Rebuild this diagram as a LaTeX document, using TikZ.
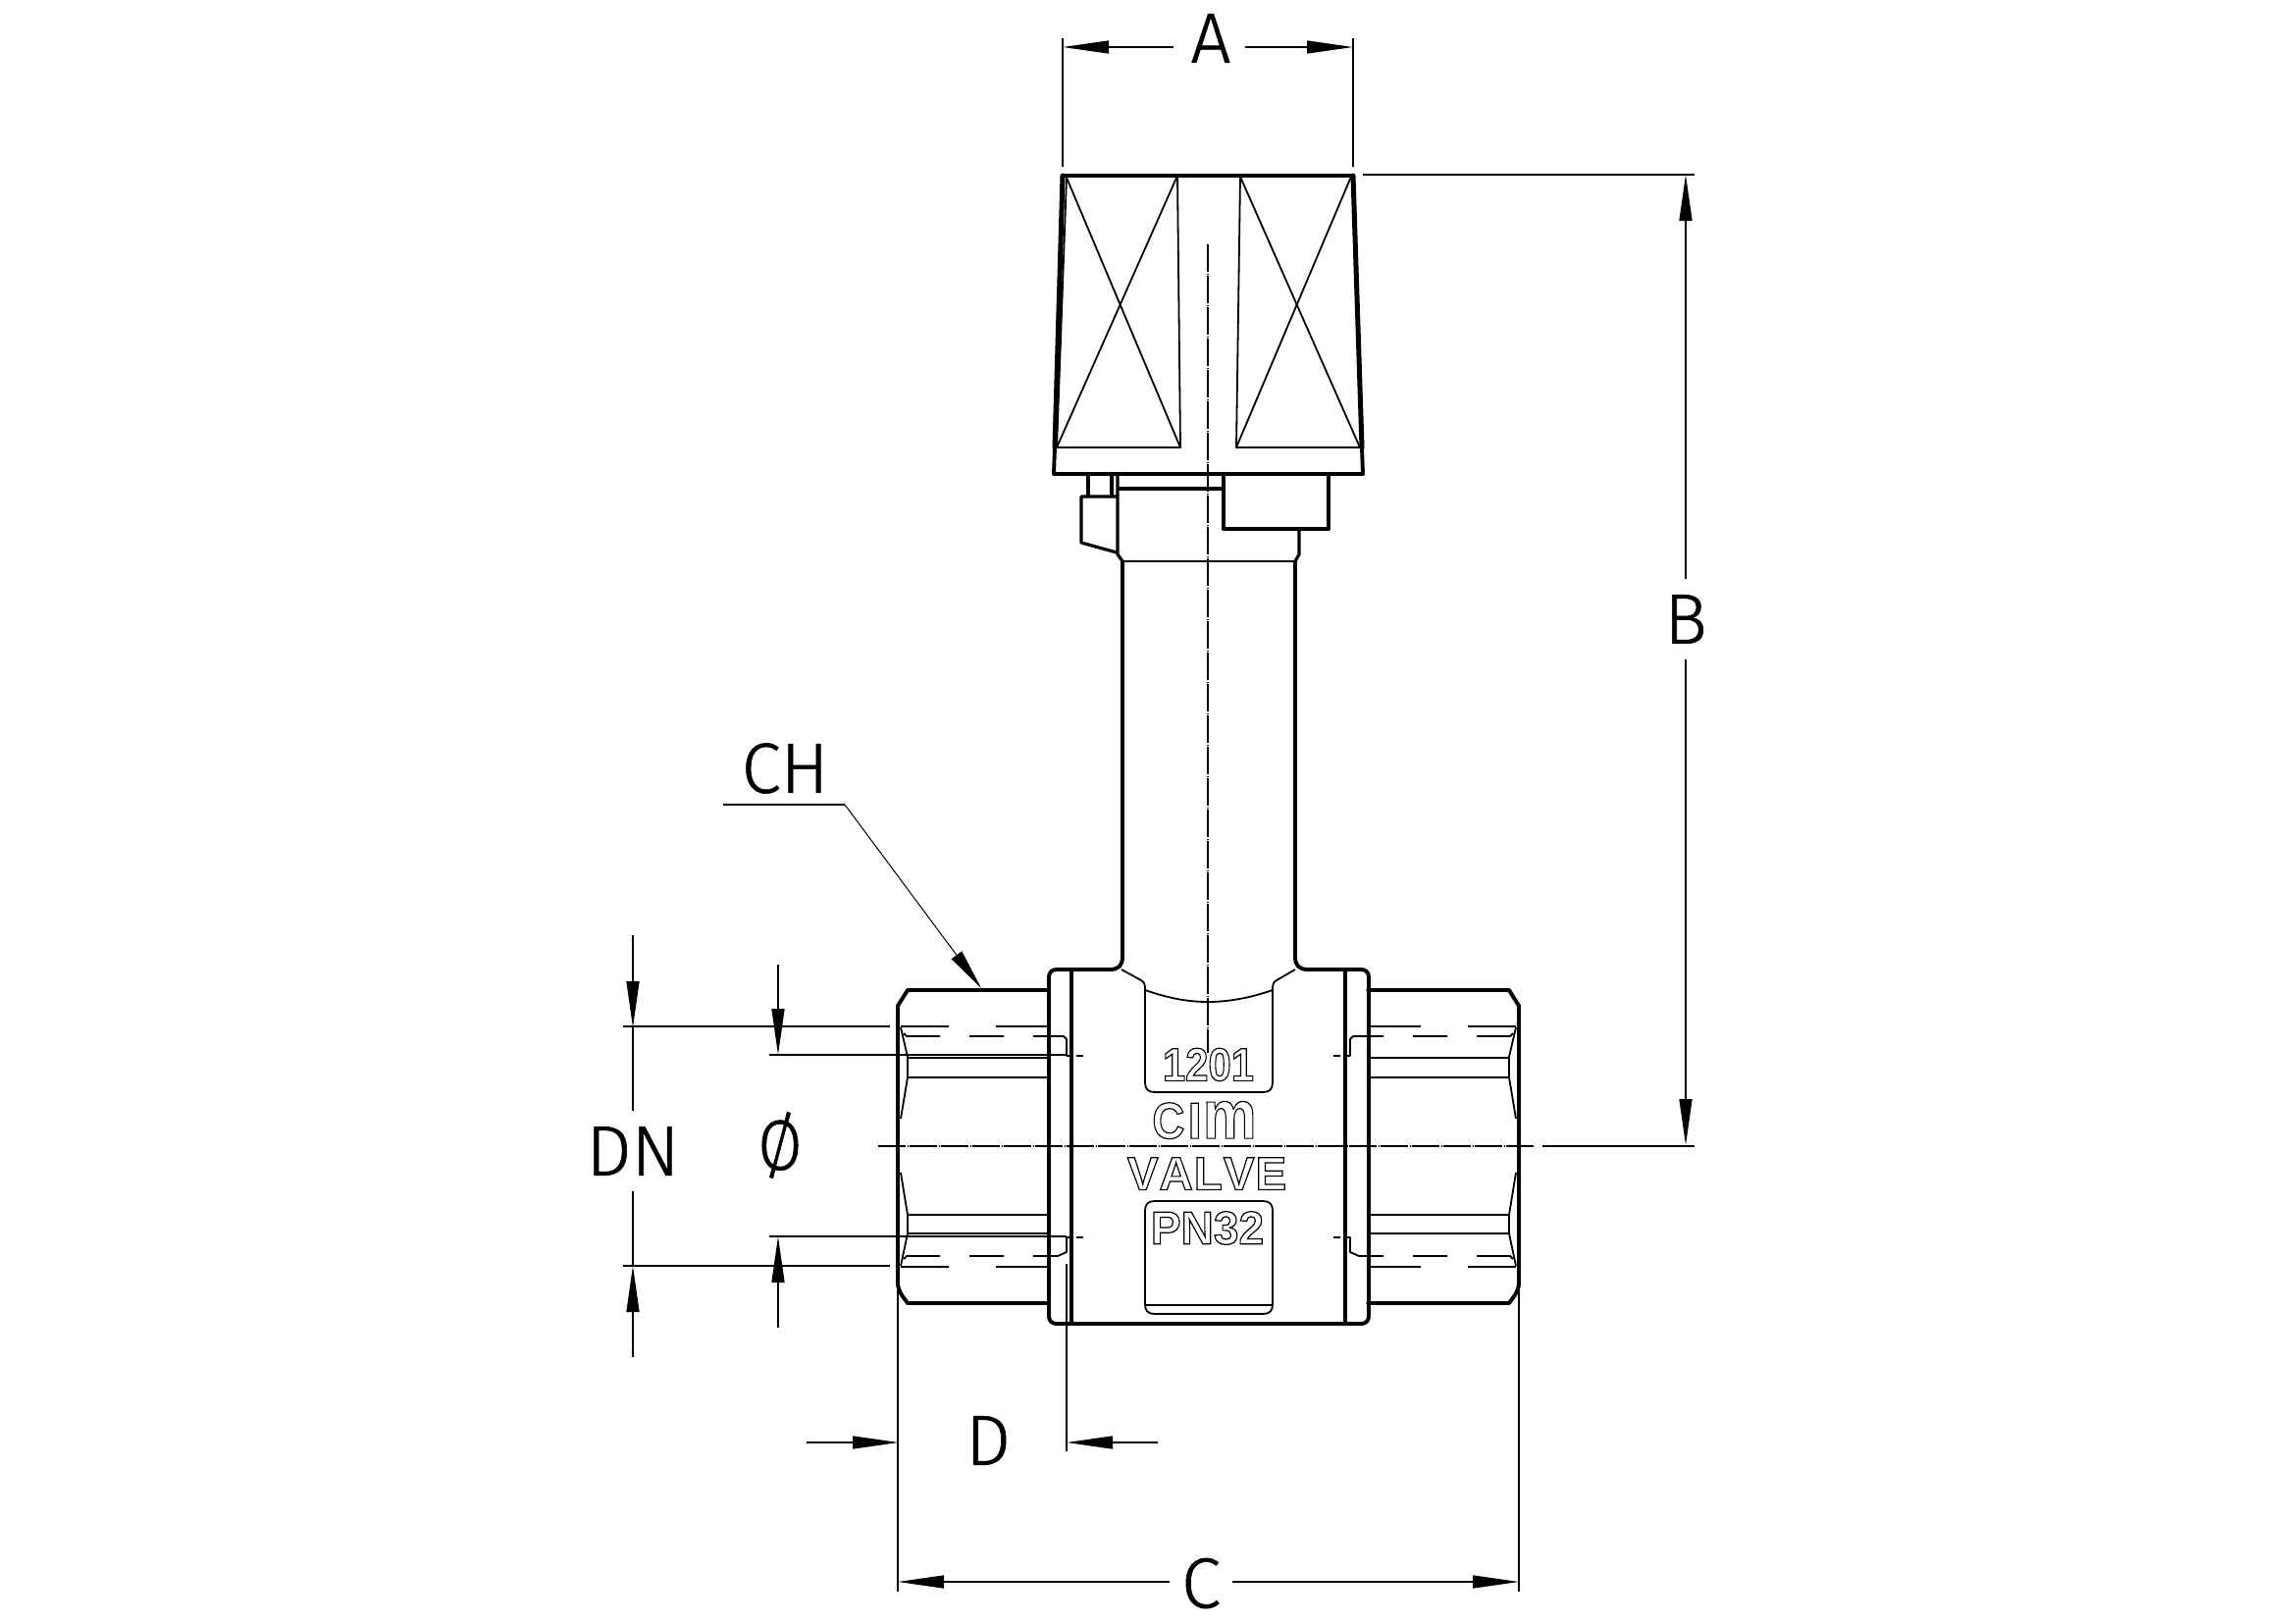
\documentclass[tikz,border=0pt]{standalone}
\usepackage{fontspec}
\usepackage{graphicx}
\usetikzlibrary{arrows.meta}
\setmainfont{Liberation Sans}
\newfontfamily\dimfont{Fira Sans Light}
\newfontfamily\engfont{Liberation Sans Bold}
\newcommand{\outl}[1]{\special{pdf:code 1 Tr 1.2 w}#1\special{pdf:code 0 Tr}}
\newcommand{\fatten}[1]{\special{pdf:code 2 Tr 0.6 w}#1\special{pdf:code 0 Tr}}
\newcommand{\hexside}{%
  \draw[heavy] (1069,1009) -- (925,1009) -- (915,1025) -- (915,1307) .. controls (915,1315) and (919,1320) .. (925,1328) -- (1069,1328);
  \draw[fine] (918,1047) -- (925,1077) -- (925,1098) -- (918,1140);
  \draw[fine] (918,1195) -- (925,1238) -- (925,1257) -- (918,1290);
  \draw[fine] (925,1078) -- (1069,1078);
  \draw[fine] (925,1098) -- (1069,1098);
  \draw[fine] (925,1238) -- (1069,1238);
  \draw[fine] (925,1257) -- (1069,1257);
  \draw[fine] (918,1046) -- (967,1046) (1015,1046) -- (1069,1046);
  \draw[fine] (918,1291) -- (967,1291) (1015,1291) -- (1069,1291);
  \draw[fine] (921,1053) -- (924,1056) -- (958,1056) (988,1056) -- (1023,1056) (1053,1056) -- (1084,1056) -- (1087,1059) -- (1087,1076) -- (1091,1076) (1097,1076) -- (1104,1076);
  \draw[fine] (921,1283) -- (924,1280) -- (958,1280) (988,1280) -- (1023,1280) (1053,1280) -- (1078,1280) -- (1087,1276) -- (1087,1261) -- (1091,1261) (1097,1261) -- (1104,1261);
}
\tikzset{
  x=1pt,y=-1pt,
  heavy/.style={line width=3.9pt,line cap=round,line join=round},
  side/.style={line width=5pt,line cap=round,line join=round},
  mid/.style={line width=3.2pt,line join=round},
  fine/.style={line width=1.8pt,line join=round},
  dimline/.style={line width=1.5pt},
  center line/.style={line width=1.3pt,dash pattern=on 28pt off 1.5pt on 1pt off 1.5pt},
  tip/.style={-{Triangle[length=47pt,width=13pt]}},
  dimlabel/.style={inner sep=0pt,font=\dimfont\fontsize{72.6}{72.6}\selectfont},
  engraved/.style={inner sep=0pt,font=\engfont\fontsize{47.5}{47.5}\selectfont},
}
\begin{document}
\begin{tikzpicture}
\useasboundingbox (0,0) rectangle (2339,1654);

% handwheel
\draw[side] (1075,456) -- (1083,179);
\draw[side] (1388,456) -- (1379,179);
\draw[heavy] (1083,179) -- (1379,179);
\draw[heavy] (1075,456) -- (1074,483) -- (1389,483) -- (1388,456);
\draw[fine] (1087,181) -- (1203,456) -- (1200,179) -- (1077,456) -- cycle;
\draw[fine] (1077,456) -- (1203,456);
\draw[fine] (1264,180) -- (1386,456) -- (1260,456) -- cycle;
\draw[fine] (1377,180) -- (1260,456);
% under the wheel
\draw[mid] (1109,483) -- (1109,506);
\draw[mid] (1133,483) -- (1133,506);
\draw[mid] (1139,483) -- (1139,565) -- (1144,572);
\draw[mid] (1138,506) -- (1102,506) -- (1102,553) -- (1138,563);
\draw[mid] (1139,498) -- (1247,498);
\draw[heavy] (1247,483) -- (1247,539) -- (1354,539) -- (1354,483);
\draw[mid] (1324,539) -- (1324,565) -- (1320,572);
\draw[fine] (1144,572) -- (1320,572);

% stem and body
\draw[heavy] (1144,572) -- (1144,975) .. controls (1144,984) and (1140,988) .. (1131,988)
  -- (1077,988) .. controls (1072,988) and (1069,991) .. (1069,996)
  -- (1069,1341) .. controls (1069,1346) and (1072,1349) .. (1077,1349)
  -- (1387,1349) .. controls (1392,1349) and (1395,1346) .. (1395,1341)
  -- (1395,996) .. controls (1395,991) and (1392,988) .. (1387,988)
  -- (1333,988) .. controls (1324,988) and (1320,984) .. (1320,975) -- (1320,572);
\draw[heavy] (1092,988) -- (1092,1349);
\draw[heavy] (1371,988) -- (1371,1349);

% label pads
\draw[fine] (1143,988) -- (1163,999) .. controls (1166,1001) and (1167,1003) .. (1167,1006)
  -- (1167,1103) .. controls (1167,1110) and (1170,1113) .. (1177,1113)
  -- (1287,1113) .. controls (1294,1113) and (1297,1110) .. (1297,1103)
  -- (1297,1006) .. controls (1297,1003) and (1298,1001) .. (1301,999) -- (1320,988);
\draw[fine] (1167,1009) .. controls (1190,1017) and (1210,1021) .. (1231,1021) .. controls (1252,1021) and (1274,1017) .. (1297,1009);
\draw[fine] (1177,1224) -- (1287,1224) .. controls (1294,1224) and (1297,1227) .. (1297,1234)
  -- (1297,1329) .. controls (1297,1336) and (1294,1339) .. (1287,1339)
  -- (1177,1339) .. controls (1170,1339) and (1167,1336) .. (1167,1329)
  -- (1167,1234) .. controls (1167,1227) and (1170,1224) .. (1177,1224) -- cycle;
\draw[fine] (1167,1330) -- (1297,1330);

% end hexagons
\hexside
\begin{scope}[shift={(2463,0)},xscale=-1]
\hexside
\end{scope}

% centre lines
\draw[center line] (1231,249) -- (1231,1073);
\draw[center line] (895,1168) -- (1563,1168);

% engraved text
\node[engraved] (t1201) at (1231.5,1085) {\outl{\scalebox{0.88}[1]{1201}}};
\node[engraved] (tcim) at (1227.5,1141.5) {\outl{\scalebox{0.88}[1]{\fontsize{52}{52}\selectfont C}\kern3pt\fontsize{52}{52}\selectfont I\kern1pt\scalebox{0.88}[1]{\fontsize{70}{70}\selectfont m}}};
\node[engraved] (tvalve) at (1230,1196) {\outl{V\kern1pt A\kern1pt L\kern1pt V\kern1pt E}};
\node[engraved] (tpn) at (1230.5,1251.5) {\outl{\scalebox{0.97}[1]{PN32}}};

% dimension A
\draw[dimline] (1083,39) -- (1083,170);
\draw[dimline] (1379,39) -- (1379,170);
\draw[dimline,tip] (1196,48) -- (1083,48);
\draw[dimline,tip] (1269,48) -- (1379,48);
\node[dimlabel] (lA) at (1234,39) {\fatten{A}};

% dimension B
\draw[dimline] (1389,178) -- (1727,178);
\draw[dimline] (1572,1168) -- (1727,1168);
\draw[dimline,tip] (1718,590) -- (1718,178);
\draw[dimline,tip] (1718,672) -- (1718,1167);
\node[dimlabel] (lB) at (1718,631) {\fatten{B}};

% dimension C and D
\draw[dimline] (915,1315) -- (915,1622);
\draw[dimline] (1548,1315) -- (1548,1622);
\draw[dimline] (1087,1288) -- (1087,1479);
\draw[dimline,tip] (1192,1612) -- (915,1612);
\draw[dimline,tip] (1256,1612) -- (1548,1612);
\node[dimlabel] (lC) at (1224,1613.5) {\fatten{C}};
\draw[dimline,tip] (822,1470) -- (916,1470);
\draw[dimline,tip] (1180,1470) -- (1087,1470);
\node[dimlabel] (lD) at (1007,1468) {\fatten{D}};

% dimension DN
\draw[dimline] (635,1046) -- (907,1046);
\draw[dimline] (635,1290) -- (907,1290);
\draw[dimline,tip] (645,953) -- (645,1047);
\draw[dimline] (645,1047) -- (645,1132);
\draw[dimline,tip] (645,1383) -- (645,1290);
\draw[dimline] (645,1290) -- (645,1214);
\node[dimlabel] (lDN) at (645,1173) {\fatten{DN}};

% dimension O-slash
\draw[dimline] (784,1075) -- (1087,1075);
\draw[dimline] (784,1260) -- (1087,1260);
\draw[dimline,tip] (793,983) -- (793,1075);
\draw[dimline,tip] (793,1353) -- (793,1260);
\node[dimlabel] (lO) at (795,1167) {\fatten{\scalebox{0.9}[1]{Ø}}};

% CH leader
\draw[dimline] (737,820) -- (861,820);
\draw[line width=1pt,-{Triangle[length=42pt,width=13pt]}] (861,820) -- (1000,1007);
\node[dimlabel] (lCH) at (800,783) {\fatten{CH}};
\end{tikzpicture}
\end{document}
